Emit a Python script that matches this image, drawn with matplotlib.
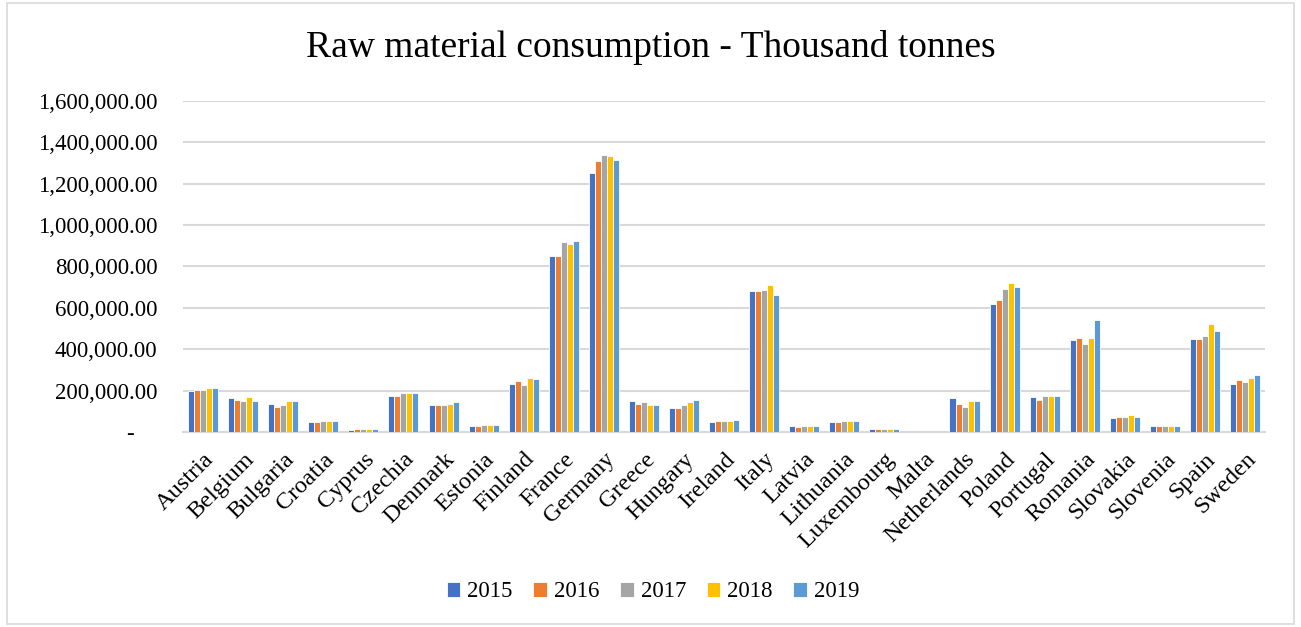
import numpy as np
import matplotlib
matplotlib.use("Agg")
import matplotlib.pyplot as plt
from matplotlib.ticker import FuncFormatter, MultipleLocator
from matplotlib.patches import Rectangle

plt.rcParams['font.family'] = ['Liberation Serif', 'DejaVu Serif']

countries = ['Austria', 'Belgium', 'Bulgaria', 'Croatia', 'Cyprus', 'Czechia',
             'Denmark', 'Estonia', 'Finland', 'France', 'Germany', 'Greece',
             'Hungary', 'Ireland', 'Italy', 'Latvia', 'Lithuania', 'Luxembourg',
             'Malta', 'Netherlands', 'Poland', 'Portugal', 'Romania', 'Slovakia',
             'Slovenia', 'Spain', 'Sweden']
years = ['2015', '2016', '2017', '2018', '2019']

# thousand tonnes per country, one list per year
rmc_2015 = [200000, 162000, 136000, 47000, 10000, 175000, 131000, 29000, 231000,
            849000, 1253000, 149000, 118000, 47000, 680000, 29000, 47000, 16000,
            2000, 162000, 618000, 169000, 443000, 67000, 29000, 451000, 231000]
rmc_2016 = [205000, 156000, 123000, 47000, 16000, 175000, 131000, 29000, 246000,
            849000, 1309000, 136000, 118000, 54000, 680000, 23000, 47000, 16000,
            2000, 136000, 637000, 156000, 456000, 73000, 29000, 451000, 250000]
rmc_2017 = [205000, 149000, 130000, 54000, 16000, 187000, 131000, 36000, 229000,
            918000, 1339000, 143000, 130000, 54000, 686000, 29000, 54000, 16000,
            2000, 123000, 693000, 175000, 424000, 73000, 29000, 464000, 244000]
rmc_2018 = [212000, 169000, 149000, 54000, 16000, 187000, 136000, 36000, 262000,
            910000, 1334000, 130000, 143000, 54000, 712000, 29000, 54000, 16000,
            2000, 149000, 719000, 175000, 456000, 80000, 29000, 521000, 262000]
rmc_2019 = [212000, 149000, 149000, 54000, 16000, 187000, 143000, 36000, 257000,
            923000, 1315000, 130000, 155000, 60000, 662000, 29000, 54000, 16000,
            2000, 149000, 699000, 175000, 540000, 73000, 29000, 488000, 275000]
series = [rmc_2015, rmc_2016, rmc_2017, rmc_2018, rmc_2019]
colors = ['#4472C4', '#ED7D31', '#A5A5A5', '#FFC000', '#5B9BD5']

fig = plt.figure(figsize=(13.01, 6.27), dpi=100)
ax = fig.add_axes([0.1407, 0.311, 0.8317, 0.528])

x = np.arange(len(countries))
w = 0.15
for i, (vals, c, yr) in enumerate(zip(series, colors, years)):
    ax.bar(x + (i - 2) * w, vals, width=w, color=c, edgecolor='white',
           linewidth=0.6, label=yr, zorder=3)

ax.set_xlim(-0.5, len(countries) - 0.5)
ax.set_ylim(0, 1600000)
ax.yaxis.set_major_locator(MultipleLocator(200000))


def fmt(v, pos):
    if abs(v) < 1:
        return '-    '
    return '{:,.2f}'.format(v)


ax.yaxis.set_major_formatter(FuncFormatter(fmt))
ax.grid(axis='y', color='#D9D9D9', linewidth=1.5, zorder=0)
for s in ['top', 'right', 'left']:
    ax.spines[s].set_visible(False)
ax.spines['bottom'].set_color('#D9D9D9')
ax.spines['bottom'].set_linewidth(1.5)
ax.tick_params(axis='both', length=0, colors='#000000')
ax.tick_params(axis='y', pad=18.5, labelsize=16.5)
ax.tick_params(axis='x', pad=12, labelsize=17.5)
ax.set_xticks(x)
ax.set_xticklabels(countries, rotation=45, ha='right', rotation_mode='anchor')

fig.text(0.5, 0.925, 'Raw material consumption - Thousand tonnes', ha='center',
         va='center', fontsize=27)

ax.legend(loc='center', bbox_to_anchor=(0.502, 0.056), bbox_transform=fig.transFigure,
          ncol=5, frameon=False, fontsize=16.5, handlelength=0.6, handleheight=0.6,
          handletextpad=0.3, columnspacing=0.9)

fig.patches.append(Rectangle((0.005, 0.005), 0.99, 0.99, transform=fig.transFigure,
                             fill=False, edgecolor='#D9D9D9', linewidth=1.2))

fig.savefig('out.png')
